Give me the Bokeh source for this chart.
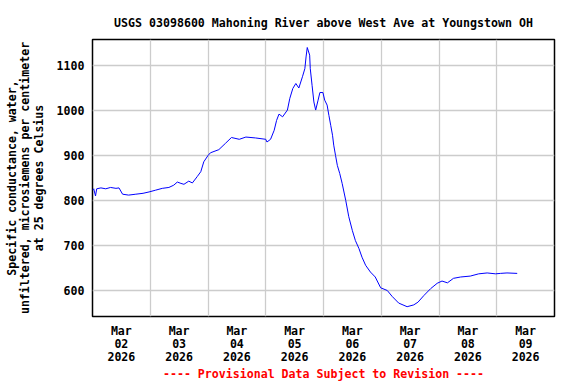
import pandas as pd
from bokeh.plotting import figure
from bokeh.models import FixedTicker, Range1d
from bokeh.embed import file_html
from bokeh.resources import INLINE

title_text = "USGS 03098600 Mahoning River above West Ave at Youngstown OH"
y_label = "Specific conductance, water,\nunfiltered, microsiemens per centimeter\nat 25 degrees Celsius"
footer_text = "---- Provisional Data Subject to Revision ----"

times = [
    "2026-03-02 00:00", "2026-03-02 00:30", "2026-03-02 01:15", "2026-03-02 01:45",
    "2026-03-02 03:30", "2026-03-02 05:30", "2026-03-02 07:30", "2026-03-02 09:45",
    "2026-03-02 11:00", "2026-03-02 12:30", "2026-03-02 15:00", "2026-03-02 18:00",
    "2026-03-02 21:00", "2026-03-02 23:30", "2026-03-03 02:15", "2026-03-03 05:00",
    "2026-03-03 07:45", "2026-03-03 09:45", "2026-03-03 11:15", "2026-03-03 12:45",
    "2026-03-03 14:00", "2026-03-03 16:00", "2026-03-03 17:30", "2026-03-03 19:30",
    "2026-03-03 21:00", "2026-03-03 22:15", "2026-03-04 00:00", "2026-03-04 01:00",
    "2026-03-04 04:30", "2026-03-04 07:15", "2026-03-04 09:45", "2026-03-04 13:00",
    "2026-03-04 15:45", "2026-03-04 19:45", "2026-03-05 00:00", "2026-03-05 00:30",
    "2026-03-05 02:00", "2026-03-05 03:30", "2026-03-05 04:30", "2026-03-05 05:30",
    "2026-03-05 07:00", "2026-03-05 09:00", "2026-03-05 10:00", "2026-03-05 11:15",
    "2026-03-05 12:30", "2026-03-05 13:45", "2026-03-05 15:15", "2026-03-05 16:15",
    "2026-03-05 16:45", "2026-03-05 17:15", "2026-03-05 18:15", "2026-03-05 18:30",
    "2026-03-05 19:15", "2026-03-05 20:00", "2026-03-05 20:45", "2026-03-05 21:45",
    "2026-03-05 22:30", "2026-03-05 23:45", "2026-03-06 00:30", "2026-03-06 01:30",
    "2026-03-06 02:15", "2026-03-06 03:00", "2026-03-06 03:45", "2026-03-06 04:15",
    "2026-03-06 05:00", "2026-03-06 05:45", "2026-03-06 06:45", "2026-03-06 07:45",
    "2026-03-06 09:15", "2026-03-06 10:30", "2026-03-06 12:00", "2026-03-06 13:15",
    "2026-03-06 14:45", "2026-03-06 16:00", "2026-03-06 17:30", "2026-03-06 19:30",
    "2026-03-06 21:30", "2026-03-06 23:45", "2026-03-07 02:30", "2026-03-07 04:30",
    "2026-03-07 07:15", "2026-03-07 10:45", "2026-03-07 13:30", "2026-03-07 15:15",
    "2026-03-07 17:45", "2026-03-07 20:30", "2026-03-07 23:15", "2026-03-08 01:15",
    "2026-03-08 03:30", "2026-03-08 06:00", "2026-03-08 09:00", "2026-03-08 13:00",
    "2026-03-08 16:30", "2026-03-08 20:00", "2026-03-08 23:30", "2026-03-09 01:30",
    "2026-03-09 04:15", "2026-03-09 08:30",
]
values = [
    823, 826, 810, 826,
    828, 826, 829, 827,
    828, 814, 812, 814,
    816, 819, 823, 827,
    829, 834, 841, 838,
    836, 843, 839, 853,
    864, 886, 900, 906,
    913, 927, 940, 936,
    941, 939, 936, 930,
    936, 956, 978, 992,
    986, 1001, 1027, 1049,
    1060, 1050, 1075, 1093,
    1119, 1140, 1123, 1093,
    1056, 1019, 1001, 1023,
    1040, 1040, 1023, 1012,
    989, 967, 945, 923,
    900, 878, 860, 838,
    800, 764, 733, 711,
    693, 674, 656, 641,
    630, 606, 600, 587,
    572, 564, 568, 574,
    589, 604, 616, 621,
    617, 627, 630, 632,
    637, 639, 637, 638,
    639, 638,
]

tick_times = ["2026-03-02 12:00", "2026-03-03 12:00", "2026-03-04 12:00", "2026-03-05 12:00",
              "2026-03-06 12:00", "2026-03-07 12:00", "2026-03-08 12:00", "2026-03-09 12:00"]
tick_labels = ["Mar\n02\n2026", "Mar\n03\n2026", "Mar\n04\n2026", "Mar\n05\n2026",
               "Mar\n06\n2026", "Mar\n07\n2026", "Mar\n08\n2026", "Mar\n09\n2026"]
grid_times = ["2026-03-02", "2026-03-03", "2026-03-04", "2026-03-05", "2026-03-06",
              "2026-03-07", "2026-03-08", "2026-03-09", "2026-03-10"]
y_ticks = [600, 700, 800, 900, 1000, 1100]
x_start, x_end = "2026-03-02", "2026-03-10"
y_start, y_end = 542.2, 1157.8


def ms(s):
    return int(pd.Timestamp(s).value // 1_000_000)


FONT = "DejaVu Sans Mono"
FS = "11.6px"
LH = 0.96

x = [ms(t) for t in times]

p = figure(width=576, height=384, x_axis_type="datetime", output_backend="svg",
           toolbar_location=None,
           x_range=Range1d(ms(x_start), ms(x_end)), y_range=Range1d(y_start, y_end),
           min_border_left=92, min_border_right=22, min_border_top=39, min_border_bottom=68)

p.line(x, values, line_color="#0000ff", line_width=1)

p.title.text = title_text
p.title.align = "center"
p.title.text_font = FONT
p.title.text_font_size = FS
p.title.text_font_style = "bold"
p.title.text_color = "black"
p.title.standoff = 19

p.outline_line_color = "black"
p.outline_line_width = 1.5

xt = [ms(t) for t in tick_times]
p.xaxis.ticker = FixedTicker(ticks=xt)
p.xaxis.major_label_overrides = {k: v for k, v in zip(xt, tick_labels)}
p.yaxis.ticker = FixedTicker(ticks=y_ticks)
for ax in (p.xaxis[0], p.yaxis[0]):
    ax.axis_line_color = None
    ax.major_tick_line_color = None
    ax.minor_tick_line_color = None
    ax.major_tick_in = 0
    ax.major_tick_out = 0
    ax.minor_tick_out = 0
    ax.major_label_text_font = FONT
    ax.major_label_text_font_size = FS
    ax.major_label_text_font_style = "bold"
    ax.major_label_text_color = "black"
    ax.major_label_text_line_height = LH
    ax.axis_label_text_font = FONT
    ax.axis_label_text_font_size = FS
    ax.axis_label_text_font_style = "bold"
    ax.axis_label_text_line_height = LH
p.xaxis.major_label_standoff = 7
p.yaxis.major_label_standoff = 8

p.yaxis.axis_label = y_label
p.yaxis.axis_label_text_color = "black"
p.yaxis.axis_label_standoff = 8

p.xaxis.axis_label = footer_text
p.xaxis.axis_label_text_color = "red"
p.xaxis.axis_label_standoff = 0

p.xgrid.ticker = FixedTicker(ticks=[ms(t) for t in grid_times])
p.ygrid.ticker = FixedTicker(ticks=y_ticks)
p.grid.grid_line_color = "#cccccc"
p.grid.grid_line_width = 1.3

open("out.html", "w").write(file_html(p, INLINE))
